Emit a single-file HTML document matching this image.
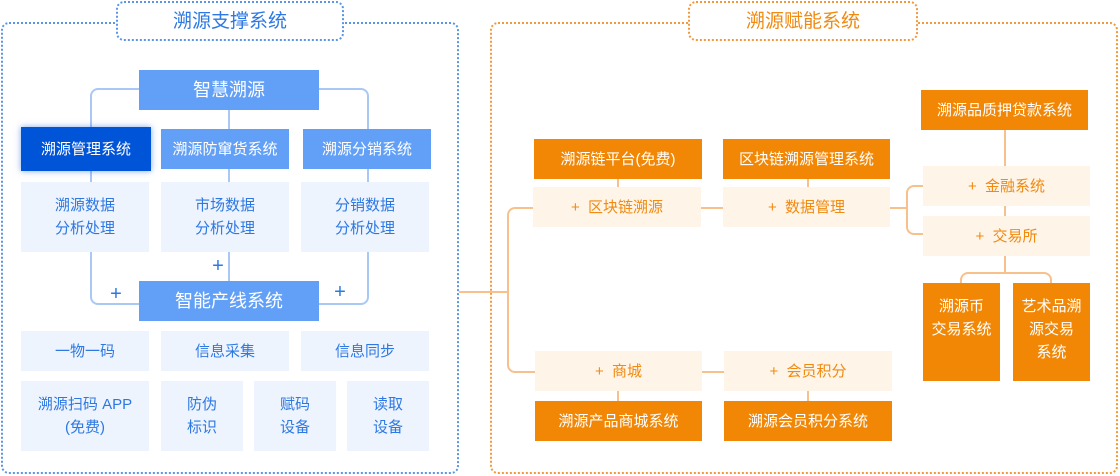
<!DOCTYPE html>
<html><head><meta charset="utf-8"><style>
body{margin:0;width:1120px;height:476px;background:#fff;position:relative;overflow:hidden;font-family:"Liberation Sans","Noto Sans CJK SC",sans-serif}
.a{position:absolute;box-sizing:border-box;display:flex;align-items:center;justify-content:center;text-align:center;font-size:15px;line-height:23px}
.b1{background:#62a0f8;color:#fff}
.b2{background:#eef4fe;color:#2d78e2}
.o1{background:#f28705;color:#fff}
.o2{background:#fef4e8;color:#f08a10}
.l{position:absolute;box-sizing:border-box}
</style></head><body>
<div class="l" style="left:1px;top:22px;width:458px;height:452px;border:2px dotted #5a95e6;border-radius:8px"></div>
<div class="a" style="left:116px;top:1px;width:228px;height:40px;border:2px dotted #5a95e6;border-radius:8px;background:#fff;color:#2d78e2;font-size:19px">溯源支撑系统</div>
<div class="l" style="left:490px;top:22px;width:628px;height:452px;border:2px dotted #f29a3a;border-radius:8px"></div>
<div class="a" style="left:688px;top:1px;width:230px;height:40px;border:2px dotted #f29a3a;border-radius:8px;background:#fff;color:#f08a10;font-size:19px">溯源赋能系统</div>

<!-- left connectors -->
<div class="l" style="left:90px;top:88px;width:279px;height:217px;border:2px solid #a9c8f6;border-radius:8px"></div>
<div class="l" style="left:228px;top:108px;width:2px;height:180px;background:#a9c8f6"></div>

<div class="a b1" style="left:139px;top:70px;width:180px;height:40px;font-size:18px">智慧溯源</div>
<div class="a" style="left:21px;top:127px;width:130px;height:44px;background:#0054d8;color:#fff;box-shadow:0 0 6px rgba(0,84,216,.5)">溯源管理系统</div>
<div class="a b1" style="left:161px;top:129px;width:128px;height:40px">溯源防窜货系统</div>
<div class="a b1" style="left:303px;top:129px;width:128px;height:40px">溯源分销系统</div>
<div class="a b2" style="left:21px;top:182px;width:128px;height:70px">溯源数据<br>分析处理</div>
<div class="a b2" style="left:161px;top:182px;width:128px;height:70px">市场数据<br>分析处理</div>
<div class="a b2" style="left:301px;top:182px;width:128px;height:70px">分销数据<br>分析处理</div>
<div class="a" style="left:208px;top:256px;width:20px;height:20px;color:#2d78e2;font-size:20px">+</div>
<div class="a" style="left:106px;top:284px;width:20px;height:20px;color:#2d78e2;font-size:20px">+</div>
<div class="a" style="left:330px;top:282px;width:20px;height:20px;color:#2d78e2;font-size:20px">+</div>
<div class="a b1" style="left:139px;top:281px;width:180px;height:40px;font-size:18px">智能产线系统</div>
<div class="a b2" style="left:21px;top:331px;width:128px;height:40px">一物一码</div>
<div class="a b2" style="left:161px;top:331px;width:128px;height:40px">信息采集</div>
<div class="a b2" style="left:301px;top:331px;width:128px;height:40px">信息同步</div>
<div class="a b2" style="left:21px;top:381px;width:128px;height:70px">溯源扫码 APP<br>(免费)</div>
<div class="a b2" style="left:161px;top:381px;width:82px;height:70px">防伪<br>标识</div>
<div class="a b2" style="left:254px;top:381px;width:82px;height:70px">赋码<br>设备</div>
<div class="a b2" style="left:347px;top:381px;width:82px;height:70px">读取<br>设备</div>

<!-- right connectors -->
<div class="l" style="left:459px;top:291px;width:49px;height:2px;background:#f8c08a"></div>
<div class="l" style="left:507px;top:207px;width:30px;height:166px;border:2px solid #f8c08a;border-right:none;border-radius:8px 0 0 8px"></div>
<div class="l" style="left:700px;top:207px;width:24px;height:2px;background:#f8c08a"></div>
<div class="l" style="left:700px;top:371px;width:24px;height:2px;background:#f8c08a"></div>
<div class="l" style="left:617px;top:178px;width:2px;height:10px;background:#f8c08a"></div>
<div class="l" style="left:807px;top:178px;width:2px;height:10px;background:#f8c08a"></div>
<div class="l" style="left:617px;top:390px;width:2px;height:12px;background:#f8c08a"></div>
<div class="l" style="left:807px;top:390px;width:2px;height:12px;background:#f8c08a"></div>
<div class="l" style="left:890px;top:207px;width:18px;height:2px;background:#f8c08a"></div>
<div class="l" style="left:906px;top:185px;width:18px;height:50px;border:2px solid #f8c08a;border-right:none;border-radius:8px 0 0 8px"></div>
<div class="l" style="left:1004px;top:128px;width:2px;height:146px;background:#f8c08a"></div>
<div class="l" style="left:960px;top:272px;width:92px;height:14px;border:2px solid #f8c08a;border-bottom:none;border-radius:8px 8px 0 0"></div>

<div class="a o1" style="left:921px;top:90px;width:167px;height:40px">溯源品质押贷款系统</div>
<div class="a o1" style="left:534px;top:139px;width:168px;height:40px">溯源链平台(免费)</div>
<div class="a o1" style="left:723px;top:139px;width:167px;height:40px">区块链溯源管理系统</div>
<div class="a o2" style="left:533px;top:187px;width:168px;height:40px">+&nbsp; 区块链溯源</div>
<div class="a o2" style="left:723px;top:187px;width:167px;height:40px">+&nbsp; 数据管理</div>
<div class="a o2" style="left:923px;top:166px;width:167px;height:40px">+&nbsp; 金融系统</div>
<div class="a o2" style="left:923px;top:216px;width:167px;height:40px">+&nbsp; 交易所</div>
<div class="a o1" style="left:923px;top:283px;width:77px;height:98px;align-items:flex-start;padding-top:12px">溯源币<br>交易系统</div>
<div class="a o1" style="left:1013px;top:283px;width:77px;height:98px;align-items:flex-start;padding-top:12px">艺术品溯<br>源交易<br>系统</div>
<div class="a o2" style="left:535px;top:351px;width:167px;height:40px">+&nbsp; 商城</div>
<div class="a o2" style="left:724px;top:351px;width:168px;height:40px">+&nbsp; 会员积分</div>
<div class="a o1" style="left:535px;top:401px;width:167px;height:40px">溯源产品商城系统</div>
<div class="a o1" style="left:724px;top:401px;width:168px;height:40px">溯源会员积分系统</div>
</body></html>
